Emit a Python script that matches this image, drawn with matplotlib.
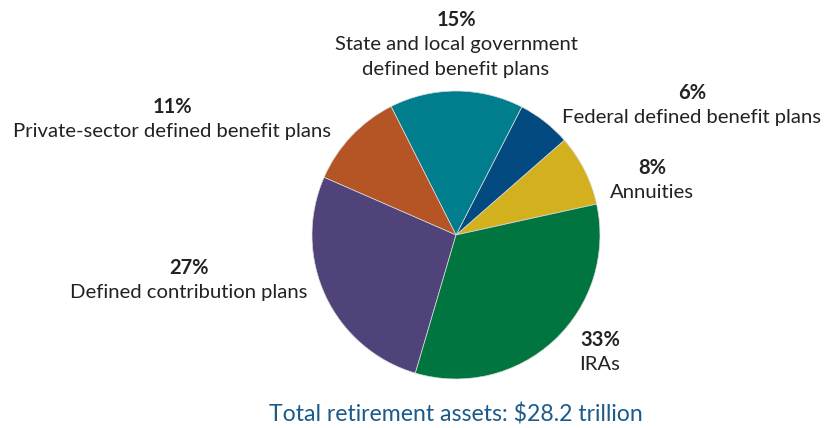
import matplotlib
matplotlib.use('Agg')
import matplotlib.pyplot as plt

# Shares of total US retirement assets, counterclockwise from the right
categories = ['Annuities', 'Federal defined benefit plans',
              'State and local government\ndefined benefit plans',
              'Private-sector defined benefit plans',
              'Defined contribution plans', 'IRAs']
shares = [8, 6, 15, 11, 27, 33]
colors = ['#D3B01E', '#034A80', '#017E8D', '#B55425', '#4F437A', '#01753F']
title = 'Total retirement assets: $28.2 trillion'

# label anchor (pixels from top-left of figure): percent line, name lines
label_pos = [(652, 168), (692, 93), (456, 20), (172, 107), (189, 268), (600, 340)]

W, H = 825, 428
cx, cy, r = 456, 235, 144

plt.rcParams['font.family'] = ['Lato', 'DejaVu Sans']

fig = plt.figure(figsize=(W / 100, H / 100), dpi=100)
ax = fig.add_axes([0, 0, 1, 1])
ax.pie(shares, colors=colors, startangle=12.4, counterclock=True,
       radius=1, center=(0, 0),
       wedgeprops=dict(linewidth=0.5, edgecolor='#dddddd'))
ax.set_xlim(-cx / r, (W - cx) / r)
ax.set_ylim(-(H - cy) / r, cy / r)
ax.set_aspect('equal')
ax.axis('off')

line_h = 24.5
for name, val, (x, y) in zip(categories, shares, label_pos):
    fig.text(x / W, 1 - y / H, '{0}%'.format(val), ha='center', va='center',
             fontsize=14.5, fontweight='bold', color='#222222')
    for i, part in enumerate(name.split('\n')):
        fig.text(x / W, 1 - (y + line_h * (i + 1)) / H, part, ha='center',
                 va='center', fontsize=14.6, color='#222222')

fig.text(456 / W, 1 - 415 / H, title, ha='center', va='center',
         fontsize=16.6, color='#1B5A8A')

fig.savefig('out.png', dpi=100)
